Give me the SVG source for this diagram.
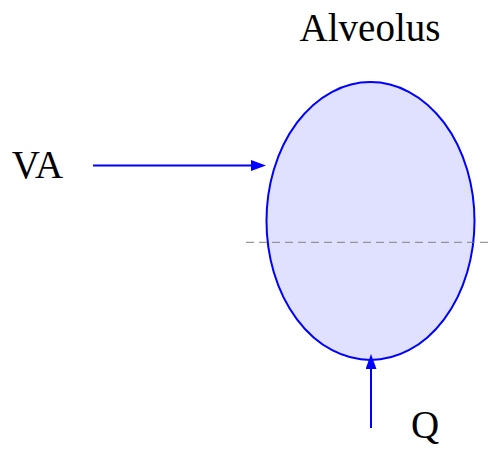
<svg xmlns="http://www.w3.org/2000/svg" width="492" height="462" viewBox="0 0 492 462">
<style>
.lbl{font-family:"Liberation Serif","Times New Roman",serif;font-size:39px;fill:#000;text-anchor:middle}
.conn{stroke:#0000ff;stroke-width:2;fill:none}
</style>
<defs>
<marker id="ah" markerUnits="userSpaceOnUse" markerWidth="16" markerHeight="12" refX="5" refY="5.5" orient="auto">
<path d="M0,0 L15,5.5 L0,11 Z" fill="#0000ff"/>
</marker>
</defs>
<rect width="492" height="462" fill="#ffffff"/>
<g id="alveolus">
<ellipse cx="370.5" cy="221" rx="104" ry="139" fill="#e0e0ff" stroke="#0000ff" stroke-width="2"/>
<text class="lbl" x="370" y="41">Alveolus</text>
</g>
<g id="divider">
<line x1="246" y1="242.3" x2="492" y2="242.3" stroke="#808080" stroke-width="1" stroke-dasharray="8,5"/>
</g>
<g id="va">
<text class="lbl" x="37.5" y="178">VA</text>
</g>
<g id="q">
<text class="lbl" x="425" y="438">Q</text>
</g>
<g id="connectors">
<line class="conn" x1="93" y1="165.5" x2="256" y2="165.5" marker-end="url(#ah)"/>
<line class="conn" x1="371" y1="428" x2="371" y2="364" marker-end="url(#ah)"/>
</g>
</svg>
